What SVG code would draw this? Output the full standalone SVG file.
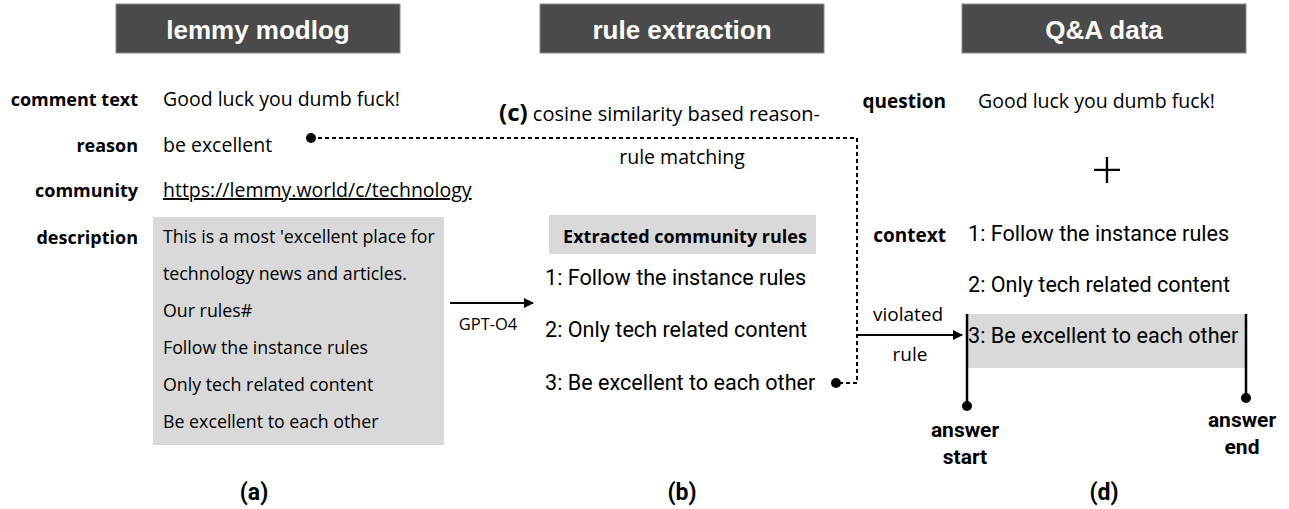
<svg xmlns="http://www.w3.org/2000/svg" width="1289" height="509" viewBox="0 0 1289 509">
<defs>
<style>
.hdr{fill:#4a4a4a;stroke:#8a8a8a;stroke-width:1}
.hdrt{font-family:"Liberation Sans",Arial,sans-serif;font-weight:bold;font-size:26px;fill:#fff;text-anchor:middle}
.lbl{font-family:"Open Sans",sans-serif;font-weight:bold;font-size:18px;fill:#000;text-anchor:end}
.val{font-family:"Open Sans",sans-serif;font-size:19.5px;fill:#000}
.desc{font-family:"Open Sans",sans-serif;font-size:17.8px;fill:#000}
.rob{font-family:Roboto,sans-serif;font-size:21.6px;fill:#000}
.robb{font-family:Roboto,sans-serif;font-weight:bold;font-size:21px;fill:#000;text-anchor:middle}
.cap{font-family:Roboto,sans-serif;font-weight:bold;font-size:23px;fill:#000;text-anchor:middle}
.grey{fill:#d9d9d9}
.dash{fill:none;stroke:#000;stroke-width:2;stroke-dasharray:4 3}
.solid{fill:none;stroke:#000;stroke-width:2}
.thick{fill:none;stroke:#000;stroke-width:2.5}
</style>
<marker id="arr" viewBox="0 0 10 10" refX="9" refY="5" markerWidth="10" markerHeight="10" markerUnits="userSpaceOnUse" orient="auto">
<path d="M0,0 L10,5 L0,10 z" fill="#000"/>
</marker>
</defs>
<rect width="1289" height="509" fill="#fff"/>

<g id="section-a">
<rect class="hdr" x="116" y="4" width="284" height="49"/>
<text class="hdrt" x="258" y="39">lemmy modlog</text>
<text class="lbl" x="138" y="106">comment text</text>
<text class="val" x="163" y="106">Good luck you dumb fuck!</text>
<text class="lbl" x="138" y="152">reason</text>
<text class="val" x="163" y="152">be excellent</text>
<text class="lbl" x="138" y="197">community</text>
<text class="val" x="163" y="197" text-decoration="underline">https://lemmy.world/c/technology</text>
<text class="lbl" x="138" y="244">description</text>
<rect class="grey" x="153" y="217" width="291" height="228"/>
<text class="desc" x="163" y="243">This is a most 'excellent place for</text>
<text class="desc" x="163" y="280">technology news and articles.</text>
<text class="desc" x="163" y="317">Our rules#</text>
<text class="desc" x="163" y="354">Follow the instance rules</text>
<text class="desc" x="163" y="391">Only tech related content</text>
<text class="desc" x="163" y="428">Be excellent to each other</text>
<text class="cap" x="254" y="500">(a)</text>
</g>

<g id="section-b">
<rect class="hdr" x="540" y="4" width="284" height="49"/>
<text class="hdrt" x="682" y="39">rule extraction</text>
<rect class="grey" x="549" y="215" width="267" height="39"/>
<text x="685" y="243" text-anchor="middle" style="font-family:'Open Sans',sans-serif;font-weight:bold;font-size:18px">Extracted community rules</text>
<text class="rob" x="545" y="285">1: Follow the instance rules</text>
<text class="rob" x="545" y="337">2: Only tech related content</text>
<text class="rob" x="545" y="390">3: Be excellent to each other</text>
<text class="cap" x="682" y="500">(b)</text>
</g>

<g id="section-c">
<text x="499" y="121" style="font-family:'Open Sans',sans-serif;font-size:20px"><tspan font-weight="bold" font-size="24px">(c)</tspan> cosine similarity based reason-</text>
<text class="val" x="682" y="164" text-anchor="middle">rule matching</text>
</g>

<g id="section-d">
<rect class="hdr" x="962" y="4" width="284" height="49"/>
<text class="hdrt" x="1104" y="39">Q&amp;A data</text>
<text class="lbl" x="946" y="108" style="font-size:19px">question</text>
<text class="val" x="978" y="108">Good luck you dumb fuck!</text>
<text x="1107" y="189" text-anchor="middle" style="font-family:'Open Sans',sans-serif;font-weight:300;font-size:56px">+</text>
<text class="lbl" x="946" y="242" style="font-size:19px">context</text>
<text class="rob" x="968" y="241">1: Follow the instance rules</text>
<text class="rob" x="968" y="292">2: Only tech related content</text>
<rect class="grey" x="968" y="314" width="278" height="54"/>
<text class="rob" x="968" y="343">3: Be excellent to each other</text>
<text class="robb" x="965" y="437">answer</text>
<text class="robb" x="965" y="464">start</text>
<text class="robb" x="1242" y="427">answer</text>
<text class="robb" x="1242" y="454">end</text>
<text class="cap" x="1104" y="500">(d)</text>
</g>

<g id="connectors">
<line class="solid" x1="450" y1="303" x2="533" y2="303" marker-end="url(#arr)"/>
<text x="488" y="330" text-anchor="middle" style="font-family:'Open Sans',sans-serif;font-size:16.5px">GPT-O4</text>
<circle cx="311" cy="138" r="5" fill="#000"/>
<circle cx="836" cy="383" r="5" fill="#000"/>
<path class="dash" d="M311,138 H857 V383 H836"/>
<line class="solid" x1="858" y1="335" x2="962" y2="335" marker-end="url(#arr)"/>
<text class="val" x="908" y="321" text-anchor="middle" style="font-size:19px">violated</text>
<text class="val" x="910" y="361" text-anchor="middle" style="font-size:19px">rule</text>
<line class="thick" x1="967" y1="314" x2="967" y2="404"/>
<circle cx="967" cy="406" r="5" fill="#000"/>
<line class="thick" x1="1246" y1="314" x2="1246" y2="396"/>
<circle cx="1246" cy="398" r="5" fill="#000"/>
</g>
</svg>
